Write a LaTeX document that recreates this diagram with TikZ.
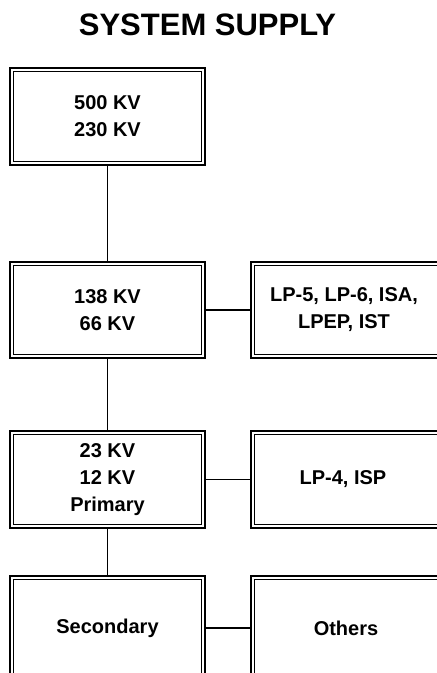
\documentclass[tikz,border=0pt]{standalone}
\usepackage{fontspec}
\setmainfont{Liberation Sans}
\begin{document}
\begin{tikzpicture}[x=1pt,y=-1pt,
  box/.style={draw, line width=1.8pt, minimum width=195pt, minimum height=97pt,
    inner sep=0pt, align=center, font=\fontsize{20}{27}\selectfont\bfseries},
  inner/.style={line width=1.1pt},
  link/.style={line width=1.6pt}]
\useasboundingbox (0,0) rectangle (437,673);
\clip (0,0) rectangle (437,673);
\node[font=\fontsize{31}{36}\selectfont\bfseries] (title) at (207.5,25) {SYSTEM SUPPLY};
\node[box] (a) at (107.5,116.5) {500 KV\\230 KV};
\node[box, minimum height=96pt] (b) at (107.5,310) {138 KV\\66 KV};
\node[box] (c) at (107.5,479.5) {23 KV\\12 KV\\Primary};
\node[box, minimum height=104pt] (d) at (107.5,628) {Secondary};
\node[box, minimum width=194pt, minimum height=96pt] (e) at (348,310) {};
\node[font=\fontsize{20}{27}\selectfont\bfseries, align=center] (et) at (344,310) {LP-5, LP-6, ISA,\\LPEP, IST};
\node[box, minimum width=194pt] (f) at (348,479.5) {};
\node[font=\fontsize{20}{27}\selectfont\bfseries] (ft) at (343,479.5) {LP-4, ISP};
\node[box, minimum width=194pt, minimum height=104pt] (g) at (348,628) {};
\node[font=\fontsize{20}{27}\selectfont\bfseries] (gt) at (346,628) {Others};
\foreach \n in {a,b,c,d,e,f,g}
  \draw[inner] ([shift={(4.5,4.5)}]\n.north west) rectangle ([shift={(-4.5,-4.5)}]\n.south east);
\draw[link] (a.south) -- (b.north);
\draw[link] (b.south) -- (c.north);
\draw[link] (c.south) -- (d.north);
\draw[link] (b.east) -- (e.west);
\draw[link] (c.east) -- (f.west);
\draw[link] (d.east) -- (g.west);
\end{tikzpicture}
\end{document}
